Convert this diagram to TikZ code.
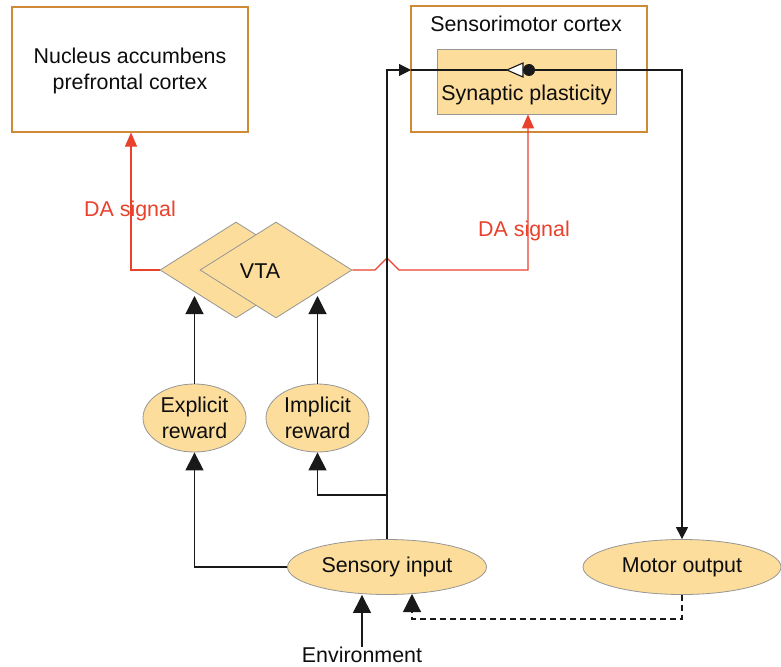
\documentclass[tikz,border=0pt]{standalone}
\usepackage{fontspec}
\setmainfont{Liberation Sans}
\usetikzlibrary{shapes.geometric,arrows.meta}
\definecolor{fillor}{RGB}{252,221,155}
\definecolor{edgegray}{RGB}{150,150,150}
\definecolor{boxor}{RGB}{206,138,52}
\definecolor{dared}{RGB}{232,65,44}
\definecolor{lineblk}{RGB}{25,25,25}
\tikzset{
  txt/.style={font=\fontsize{21.4}{26}\selectfont, text=black!95, inner sep=0pt},
  region/.style={draw=boxor, line width=1.1pt, fill=white, minimum width=236pt, minimum height=126pt, inner sep=0pt},
  oval/.style={ellipse, draw=edgegray, fill=fillor, line width=0.8pt, inner sep=0pt, align=center, text=black!95, font=\fontsize{21.4}{26}\selectfont},
  dia/.style={diamond, draw=edgegray, fill=fillor, line width=0.8pt, minimum width=152pt, minimum height=96pt, inner sep=0pt},
  conn/.style={draw=lineblk, line width=1.1pt},
  bigarrow/.style={conn, -{Triangle[length=18pt,width=18pt]}},
  smallarrow/.style={conn, -{Triangle[length=12pt,width=12pt]}},
  redline/.style={draw=dared, line width=1.1pt},
  redarrow/.style={redline, -{Triangle[length=14pt,width=12pt]}},
  redtxt/.style={font=\fontsize{21.4}{26}\selectfont, text=dared, inner sep=0pt},
}
\begin{document}
\begin{tikzpicture}[x=1pt,y=-1pt]
\useasboundingbox (0,0) rectangle (781,666);

% boxes
\node[region, minimum height=125pt] (nucleus) at (130,69.5) {};
\node[txt, align=center] (nuctext) at (130,71) {Nucleus accumbens\\prefrontal cortex};
\node[region] (cortex) at (529,69) {};
\node[txt] (cortextitle) at (526,24) {Sensorimotor cortex};
\node[draw=edgegray, fill=fillor, line width=0.8pt, minimum width=179pt, minimum height=65pt, inner sep=0pt] (synapse) at (526.5,81.5) {};
\node[txt] (syntext) at (526.5,95) {Synaptic plasticity};

% VTA diamonds
\node[dia] (vtaL) at (236,270) {};
\node[dia] (vtaR) at (276,270) {};
\node[txt] (vtatext) at (260,271) {VTA};

% ovals
\node[oval, minimum width=103pt, minimum height=68pt] (explicit) at (194.5,418) {Explicit\\reward};
\node[oval, minimum width=103pt, minimum height=68pt] (implicit) at (317.5,418) {Implicit\\reward};
\node[oval, minimum width=199pt, minimum height=55pt] (sensory) at (387,567) {Sensory input};
\node[oval, minimum width=198pt, minimum height=55pt] (motor) at (682,567) {Motor output};
\node[txt] (env) at (362,655) {Environment};

% coordinates
\coordinate (lcorner) at (131,270);
\coordinate (bumpA) at (375,270);
\coordinate (bumpB) at (387,258);
\coordinate (bumpC) at (399,270);
\coordinate (rcorner) at (528,270);
\coordinate (inA) at (411,70);
\coordinate (tritip) at (507,70);
\coordinate (dot) at (529,70);
\coordinate (branch) at (387,495);
\coordinate (exptip) at (194.5,296);
\coordinate (imptip) at (317.5,296);
\coordinate (dashA) at (682,619);
\coordinate (dashB) at (412,619);
\coordinate (dashtip) at (412,594);

% red DA signal lines
\draw[redarrow] (vtaL.west) -- (lcorner) -- (lcorner |- nucleus.south);
\draw[redarrow] (vtaR.east) -- (bumpA) -- (bumpB) -- (bumpC) -- (rcorner) -- (rcorner |- synapse.south);
\node[redtxt] (da1) at (130,211) {DA signal};
\node[redtxt] (da2) at (524,231) {DA signal};

% black connectors
\draw[smallarrow] (sensory.north) |- (inA);
\draw[conn] (inA) -- (tritip);
\draw[conn, fill=white] (tritip) -- (523,63) -- (523,77) -- cycle;
\fill[lineblk] (dot) circle (6pt);
\draw[smallarrow] (dot) -| (motor.north);
\draw[bigarrow] (branch) -| (implicit.south);
\draw[bigarrow] (sensory.west) -| (explicit.south);
\draw[bigarrow] (explicit.north) -- (exptip);
\draw[bigarrow] (implicit.north) -- (imptip);
\draw[bigarrow] (env.north) -- (env.north |- sensory.south);
\draw[bigarrow, dash pattern=on 6pt off 4pt] (motor.south) -- (dashA) -- (dashB) -- (dashtip);
\end{tikzpicture}
\end{document}
